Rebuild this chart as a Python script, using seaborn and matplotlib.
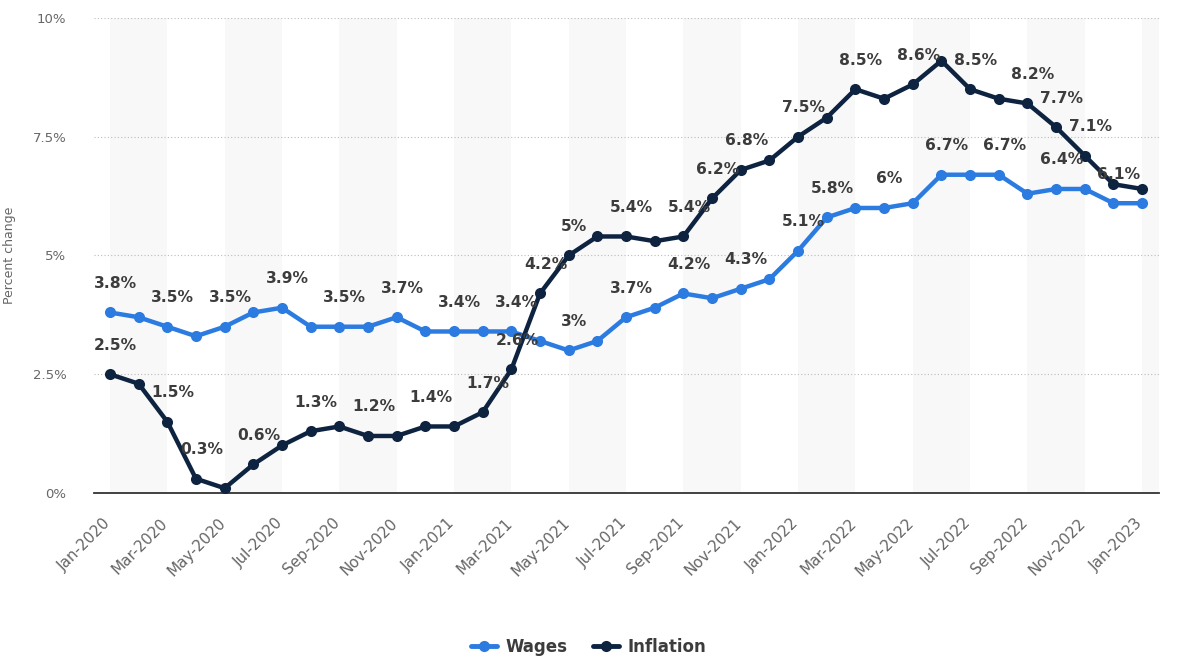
import numpy as np
import pandas as pd
import matplotlib
matplotlib.use('Agg')
import matplotlib.pyplot as plt
import matplotlib.transforms as mtransforms
import seaborn as sns
from matplotlib.lines import Line2D

# ---- data ----
months = pd.date_range('2020-01-01', '2023-01-01', freq='MS').strftime('%b-%Y').tolist()

wages = [3.8, 3.7, 3.5, 3.3, 3.5, 3.8, 3.9, 3.5, 3.5, 3.5, 3.7, 3.4,
         3.4, 3.4, 3.4, 3.2, 3.0, 3.2, 3.7, 3.9, 4.2, 4.1, 4.3, 4.5,
         5.1, 5.8, 6.0, 6.0, 6.1, 6.7, 6.7, 6.7, 6.3, 6.4, 6.4, 6.1,
         6.1]
inflation = [2.5, 2.3, 1.5, 0.3, 0.1, 0.6, 1.0, 1.3, 1.4, 1.2, 1.2, 1.4,
             1.4, 1.7, 2.6, 4.2, 5.0, 5.4, 5.4, 5.3, 5.4, 6.2, 6.8, 7.0,
             7.5, 7.9, 8.5, 8.3, 8.6, 9.1, 8.5, 8.3, 8.2, 7.7, 7.1, 6.5,
             6.4]

# which points carry a value label
wage_labels = [0, 2, 4, 6, 8, 10, 12, 14, 16, 18, 20, 22, 24, 25, 27, 29, 31, 33, 35]
infl_labels = [0, 2, 3, 5, 7, 9, 11, 13, 14, 15, 16, 18, 20, 21, 22, 24, 26, 28, 30, 32, 33, 34]

yticks = [0, 2.5, 5, 7.5, 10]
ytick_labels = ['0%', '2.5%', '5%', '7.5%', '10%']

WAGE_COL = '#2b7be0'
INFL_COL = '#0d2340'
TXT_COL = '#3c3c3c'

df = pd.DataFrame({'idx': np.arange(len(months)), 'month': months,
                   'Wages': wages, 'Inflation': inflation})

sns.set_style('white')
plt.rcParams['font.family'] = ['DejaVu Sans']

fig = plt.figure(figsize=(11.77, 6.61), dpi=100)
ax = fig.add_axes([0.080, 0.2542, 0.905, 0.7186])

# alternating background bands (two months wide)
for start in range(0, len(months), 4):
    ax.axvspan(start, min(start + 2, len(months) - 1 + 0.6), color='#f8f8f8', zorder=0, lw=0)

sns.lineplot(data=df, x='idx', y='Wages', ax=ax, color=WAGE_COL, lw=3.2,
             marker='o', markersize=8, markeredgewidth=0, zorder=3)
sns.lineplot(data=df, x='idx', y='Inflation', ax=ax, color=INFL_COL, lw=3.2,
             marker='o', markersize=8, markeredgewidth=0, zorder=4)

for series, idxs in ((wages, wage_labels), (inflation, infl_labels)):
    for i in idxs:
        ax.annotate(f'{series[i]:g}%', (i, series[i]), xytext=(4, 21),
                    textcoords='offset points', ha='center', va='center',
                    fontsize=11.2, fontweight='bold', color=TXT_COL, zorder=6)

ax.set_xlim(-0.55, 36.6)
ax.set_ylim(0, 10)
ax.set_yticks(yticks)
ax.set_yticklabels(ytick_labels)
ax.set_xticks(range(0, len(months), 2))
ax.set_xticklabels(months[::2], rotation=45, ha='right', rotation_mode='anchor')
ax.tick_params(axis='x', length=0, pad=16, labelsize=11, labelcolor='#666666')
ax.tick_params(axis='y', length=0, pad=20, labelsize=9.5, labelcolor='#666666')
shift = mtransforms.ScaledTranslation(-0.07, 0, fig.dpi_scale_trans)
for lab in ax.get_xticklabels():
    lab.set_transform(lab.get_transform() + shift)
ax.yaxis.grid(True, linestyle=(0, (1, 2)), color='#bbbbbb', lw=0.8)
ax.xaxis.grid(False)
for s in ['top', 'right', 'left']:
    ax.spines[s].set_visible(False)
ax.spines['bottom'].set_color('#333333')
ax.spines['bottom'].set_linewidth(1.3)
ax.set_xlabel('')
ax.set_ylabel('Percent change', fontsize=9, color='#666666', labelpad=12)

handles = [Line2D([], [], color=WAGE_COL, lw=3.5, marker='o', markersize=7),
           Line2D([], [], color=INFL_COL, lw=3.5, marker='o', markersize=7)]
fig.legend(handles, ['Wages', 'Inflation'], loc='center', ncol=2,
           bbox_to_anchor=(0.5, 1 - 647 / 661), frameon=False, handlelength=1.6,
           columnspacing=1.5, handletextpad=0.5,
           prop={'weight': 'bold', 'size': 12})
for t in fig.legends[0].get_texts():
    t.set_color(TXT_COL)

plt.savefig('out.png', dpi=100)
